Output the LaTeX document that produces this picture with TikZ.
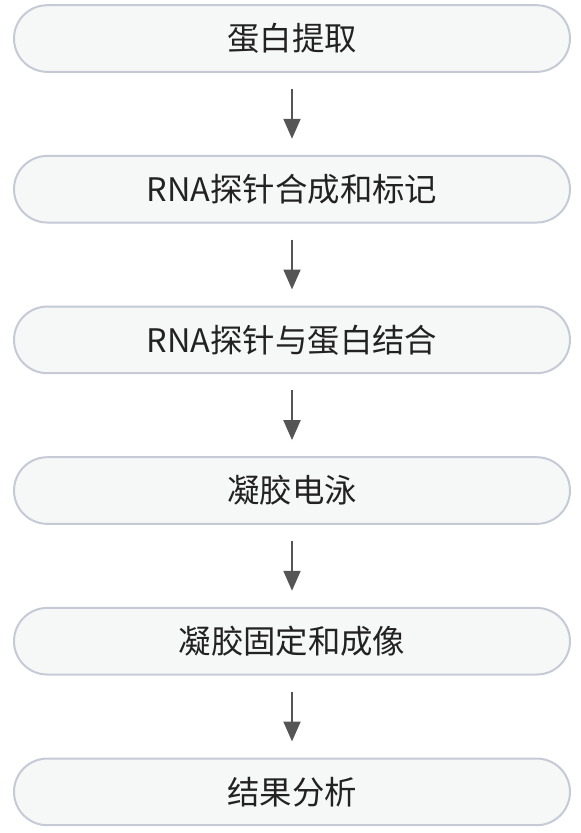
\documentclass[tikz,border=0pt]{standalone}
\usepackage{fontspec}
\setmainfont{Noto Sans CJK SC}
\usetikzlibrary{arrows.meta,positioning}
\definecolor{boxline}{HTML}{C5CAD6}
\definecolor{boxfill}{HTML}{F6F7F7}
\definecolor{arrowgray}{HTML}{555555}
\definecolor{txt}{HTML}{222222}
\tikzset{
  >={Triangle[width=12.5pt,length=15pt]},
  stage/.style = {draw=boxline, fill=boxfill, line width=1.5pt, rounded corners=25pt,
                  minimum width=417pt, minimum height=50pt, inner sep=0pt,
                  text=txt, font=\fontsize{24.3pt}{28pt}\selectfont},
  flow/.style = {->, draw=arrowgray, line width=2.2pt, shorten <=12pt, shorten >=12pt},
}
\begin{document}
\begin{tikzpicture}[node distance=61.5pt]
  \useasboundingbox (0,0) rectangle (435.75pt,-624.75pt);
  \node[stage] (extract) at (219pt,-28.9pt) {蛋白提取};
  \node[stage, below=of extract] (probe) {RNA探针合成和标记};
  \node[stage, below=of probe] (bind) {RNA探针与蛋白结合};
  \node[stage, below=of bind] (gel) {凝胶电泳};
  \node[stage, below=of gel] (image) {凝胶固定和成像};
  \node[stage, below=of image] (result) {结果分析};
  \draw[flow] (extract) -- (probe);  % step 1 -> 2
  \draw[flow] (probe) -- (bind);     % step 2 -> 3
  \draw[flow] (bind) -- (gel);       % step 3 -> 4
  \draw[flow] (gel) -- (image);      % step 4 -> 5
  \draw[flow] (image) -- (result);   % step 5 -> 6
\end{tikzpicture}
\end{document}
